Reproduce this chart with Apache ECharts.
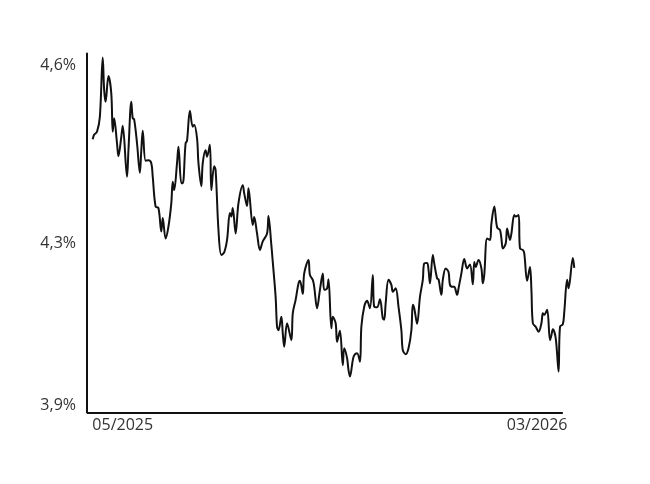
<!DOCTYPE html>
<html>
<head>
<meta charset="utf-8">
<script src="https://cdn.jsdelivr.net/npm/echarts@6/dist/echarts.min.js"></script>
<style>html,body{margin:0;padding:0;background:#fff}#c{width:650px;height:484px}</style>
</head>
<body>
<div id="c"></div>
<script>
// day offsets from the first observation
const dayOffsets = [0,1,3,5,7,8,9,11,13,14,15,17,18,20,21,24,25,27,28,29,31,33,34,35,37,39,41,42,44,46,48,49,51,53,55,56,57,59,60,62,63,65,66,68,70,71,73,74,76,77,79,80,82,83,85,86,88,90,92,94,96,97,98,100,102,105,106,108,109,112,113,115,117,119,122,123,125,126,128,129,130,132,133,134,136,139,140,142,144,145,147,148,151,152,154,155,157,159,161,162,164,165,167,168,170,171,173,175,176,178,179,180,182,183,185,187,188,190,192,194,196,197,199,201,203,204,205,207,209,210,212,214,216,217,219,221,223,224,225,227,229,231,232,234,235,236,238,239,241,242,244,245,247,249,250,252,253,255,256,258,260,262,264,266,267,268,270,272,273,274,276,278,279,281,283,285,286,287,289,290,292,293,295,296,298,299,301,302,304,306,307,308,310,312,314,315,316,318,320,321,322,324,326,327,329,330,332,333,336,337];
// yield, %
const yields = [4.478,4.487,4.493,4.523,4.642,4.577,4.553,4.605,4.570,4.493,4.520,4.470,4.444,4.483,4.505,4.403,4.456,4.553,4.520,4.518,4.470,4.411,4.456,4.495,4.435,4.436,4.430,4.403,4.343,4.340,4.293,4.320,4.279,4.303,4.350,4.393,4.376,4.430,4.463,4.390,4.390,4.470,4.475,4.535,4.503,4.507,4.480,4.430,4.384,4.430,4.456,4.443,4.467,4.376,4.424,4.416,4.296,4.246,4.251,4.276,4.330,4.323,4.340,4.289,4.350,4.386,4.370,4.344,4.380,4.306,4.322,4.289,4.256,4.273,4.289,4.324,4.266,4.232,4.162,4.102,4.095,4.122,4.089,4.062,4.109,4.075,4.129,4.156,4.189,4.194,4.168,4.209,4.236,4.206,4.196,4.182,4.139,4.176,4.209,4.176,4.179,4.197,4.099,4.122,4.109,4.072,4.094,4.025,4.059,4.039,4.015,4.002,4.035,4.045,4.049,4.032,4.102,4.142,4.154,4.139,4.206,4.142,4.141,4.157,4.119,4.116,4.149,4.196,4.186,4.172,4.179,4.142,4.095,4.055,4.047,4.059,4.095,4.146,4.139,4.108,4.162,4.196,4.229,4.230,4.216,4.189,4.246,4.229,4.199,4.197,4.166,4.196,4.219,4.212,4.186,4.182,4.182,4.166,4.179,4.209,4.238,4.219,4.227,4.187,4.232,4.222,4.236,4.219,4.189,4.206,4.279,4.276,4.309,4.343,4.301,4.296,4.279,4.259,4.269,4.299,4.276,4.289,4.326,4.323,4.326,4.259,4.256,4.249,4.194,4.222,4.176,4.109,4.102,4.092,4.109,4.129,4.126,4.136,4.075,4.085,4.097,4.079,4.012,4.102,4.107,4.132,4.196,4.179,4.240,4.220];

const xTickValues = [21, 311];
const xTickLabels = ['05/2025', '03/2026'];
const yTickValues = [3.945, 4.270, 4.627];
const yTickLabels = ['3,9%', '4,3%', '4,6%'];

const X_MIN = -4, X_AXIS_END = 329, X_MAX = 337.5;
const Y_MIN = 3.93, Y_MAX = 4.65;

const seriesData = dayOffsets.map((d, i) => [d, yields[i]]);
const FONT = 'Open Sans';

const chart = echarts.init(document.getElementById('c'), null, {renderer: 'canvas'});
chart.setOption({
  animation: false,
  backgroundColor: '#ffffff',
  grid: {left: 87, right: 75, top: 53.5, bottom: 71.5, containLabel: false, outerBoundsMode: 'none'},
  xAxis: {
    type: 'value', min: X_MIN, max: X_MAX,
    splitLine: {show: false},
    axisTick: {show: false},
    axisLine: {show: false},
    axisLabel: {
      customValues: xTickValues,
      formatter: v => xTickLabels[xTickValues.indexOf(v)] || '',
      color: '#333', fontFamily: FONT, fontSize: 16, margin: 5
    }
  },
  yAxis: {
    type: 'value', min: Y_MIN, max: Y_MAX,
    splitLine: {show: false},
    axisTick: {show: false},
    axisLine: {show: true, onZero: false, lineStyle: {color: '#111', width: 2}},
    axisLabel: {
      customValues: yTickValues,
      formatter: v => yTickLabels[yTickValues.indexOf(v)] || '',
      color: '#333', fontFamily: FONT, fontSize: 16, margin: 11
    }
  },
  series: [{
    type: 'line',
    data: seriesData,
    showSymbol: false,
    smooth: 0.35,
    lineStyle: {color: '#111', width: 2},
    markLine: {
      silent: true,
      symbol: 'none',
      label: {show: false},
      lineStyle: {color: '#111', width: 2, type: 'solid'},
      data: [[{coord: [X_MIN, Y_MIN]}, {coord: [X_AXIS_END, Y_MIN]}]]
    }
  }]
});
</script>
</body>
</html>
